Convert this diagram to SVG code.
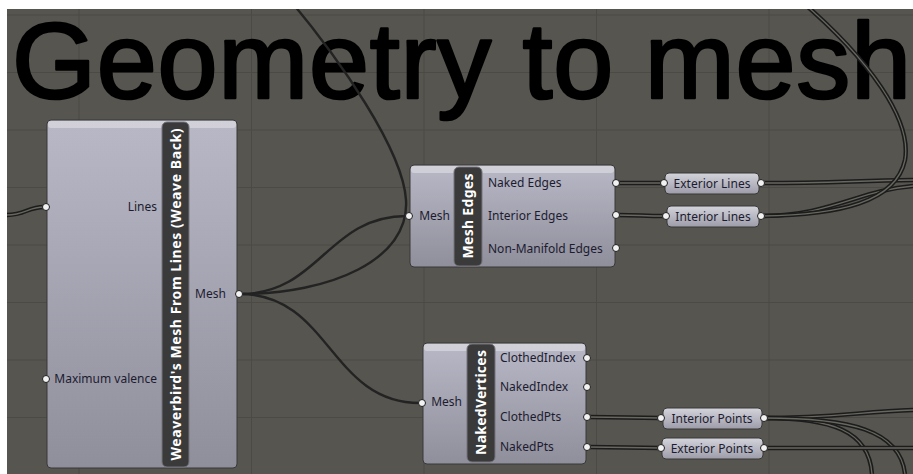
<svg xmlns="http://www.w3.org/2000/svg" width="913" height="474" viewBox="0 0 913 474">
<defs>
<style>
.grid{stroke:#4b4a45;stroke-width:1;fill:none}
.title{font-family:"Liberation Sans",Arial,sans-serif;font-size:108px;fill:#000;stroke:#000;stroke-width:2.6;stroke-linejoin:round}
.w1{fill:none;stroke:#232323;stroke-width:2.4}
.w2o{fill:none;stroke:#1c1c1c;stroke-width:4.4}
.w2i{fill:none;stroke:#67665f;stroke-width:1.3}
.comp{fill:url(#gc);stroke:#383838;stroke-width:1}
.param{fill:url(#gp);stroke:#383838;stroke-width:1}
.hl{fill:#ffffff;fill-opacity:0.35}
.bar{fill:#3a3a3a;stroke:#74747c;stroke-width:1}
.bt{font-family:"Noto Sans","DejaVu Sans",sans-serif;font-weight:bold;font-size:14px;fill:#ffffff;text-anchor:middle}
.lb{font-family:"Noto Sans","DejaVu Sans",sans-serif;font-size:12px;fill:#1c1c30}
.e{text-anchor:end}
.m{text-anchor:middle}
.grip{fill:#f2f2f2;stroke:#1e1e1e;stroke-width:1}
</style>
<linearGradient id="gc" x1="0" y1="0" x2="0" y2="1">
<stop offset="0" stop-color="#b9b8c6"/>
<stop offset="1" stop-color="#8f8e9b"/>
</linearGradient>
<linearGradient id="gp" x1="0" y1="0" x2="0" y2="1">
<stop offset="0" stop-color="#d4d4dc"/>
<stop offset="1" stop-color="#9d9ca9"/>
</linearGradient>
<path id="pLinesIn" d="M7,215 C25,215 28,207 44,207"/>
<path id="pNE" d="M617,183 C640,183 642,183 664,183"/>
<path id="pIE" d="M617,215 C640,215 642,216 666,216"/>
<path id="pCP" d="M589,417 C625,417 628,418 660,418"/>
<path id="pNP" d="M589,447 C625,447 628,448 660,448"/>
<path id="pEL" d="M761,183 C830,183 850,181 913,180"/>
<path id="pIL1" d="M761,216 C830,216 860,190 913,186"/>
<path id="pIL2" d="M761,216 C840,215 896,202 905,160 C912,120 870,60 800,0"/>
<path id="pIP1" d="M764,418 C830,418 860,412 913,410"/>
<path id="pIP2" d="M764,418 C830,418 869,430 872,474"/>
<path id="pIP3" d="M764,418 C850,418 900,430 905,474"/>
<path id="pEP" d="M764,448 C830,448 860,448 913,448"/>
</defs>
<rect x="0" y="0" width="913" height="474" fill="#ffffff"/>
<rect x="7" y="9" width="906" height="465" fill="#56554f"/>
<g id="grid">
<path class="grid" d="M7,15H913M7,72.5H913M7,130H913M7,187.5H913M7,245H913M7,302.5H913M7,360H913M7,417.5H913M79,9V474M251.5,9V474M424,9V474M596.5,9V474M769,9V474"/>
</g>
<text class="title" x="12" y="98" textLength="899">Geometry to mesh</text>
<g id="connectors">
<path class="w1" d="M240,294 C320,294 327,216 407,216"/>
<path class="w1" d="M240,294 C330,294 410,260 406,200 C403,150 340,60 290,0"/>
<path class="w1" d="M240,294 C330,294 330,403 420,403"/>
<use href="#pLinesIn" class="w2o"/><use href="#pLinesIn" class="w2i"/>
<use href="#pNE" class="w2o"/><use href="#pNE" class="w2i"/>
<use href="#pIE" class="w2o"/><use href="#pIE" class="w2i"/>
<use href="#pCP" class="w2o"/><use href="#pCP" class="w2i"/>
<use href="#pNP" class="w2o"/><use href="#pNP" class="w2i"/>
<use href="#pEL" class="w2o"/><use href="#pEL" class="w2i"/>
<use href="#pIL1" class="w2o"/><use href="#pIL1" class="w2i"/>
<use href="#pIL2" class="w2o"/><use href="#pIL2" class="w2i"/>
<use href="#pIP1" class="w2o"/><use href="#pIP1" class="w2i"/>
<use href="#pIP2" class="w2o"/><use href="#pIP2" class="w2i"/>
<use href="#pIP3" class="w2o"/><use href="#pIP3" class="w2i"/>
<use href="#pEP" class="w2o"/><use href="#pEP" class="w2i"/>
</g>
<rect x="0" y="0" width="913" height="9" fill="#ffffff"/>
<g id="weaverbird">
<rect class="comp" x="47" y="120" width="190" height="348" rx="4"/>
<rect class="hl" x="48" y="121" width="188" height="7" rx="3"/>
<rect class="bar" x="162" y="122" width="27" height="345" rx="5"/>
<text class="bt" transform="translate(180.5,294.5) rotate(-90)" textLength="332">Weaverbird's Mesh From Lines (Weave Back)</text>
<text class="lb e" x="157" y="211">Lines</text>
<text class="lb e" x="157" y="383">Maximum valence</text>
<text class="lb" x="195" y="298">Mesh</text>
<circle class="grip" cx="46" cy="207" r="3.5"/>
<circle class="grip" cx="46" cy="379" r="3.5"/>
<circle class="grip" cx="239" cy="294" r="3.5"/>
</g>
<g id="meshEdges">
<rect class="comp" x="410" y="165" width="205" height="102" rx="4"/>
<rect class="hl" x="411" y="166" width="203" height="7" rx="3"/>
<rect class="bar" x="454" y="167" width="28" height="99" rx="5"/>
<text class="bt" transform="translate(473,216) rotate(-90)" textLength="85">Mesh Edges</text>
<text class="lb e" x="450" y="220">Mesh</text>
<text class="lb" x="488" y="187">Naked Edges</text>
<text class="lb" x="488" y="220">Interior Edges</text>
<text class="lb" x="488" y="253">Non-Manifold Edges</text>
<circle class="grip" cx="409" cy="216" r="3.5"/>
<circle class="grip" cx="616" cy="183" r="3.5"/>
<circle class="grip" cx="616" cy="215" r="3.5"/>
<circle class="grip" cx="616" cy="248" r="3.5"/>
</g>
<g id="exteriorLines">
<rect class="param" x="665" y="173" width="94" height="21" rx="4"/>
<text class="lb m" x="712" y="188">Exterior Lines</text>
<circle class="grip" cx="664" cy="183" r="3.5"/>
<circle class="grip" cx="761" cy="183" r="3.5"/>
</g>
<g id="interiorLines">
<rect class="param" x="667" y="206" width="92" height="21" rx="4"/>
<text class="lb m" x="713" y="221">Interior Lines</text>
<circle class="grip" cx="666" cy="216" r="3.5"/>
<circle class="grip" cx="761" cy="216" r="3.5"/>
</g>
<g id="nakedVertices">
<rect class="comp" x="423" y="343" width="163" height="121" rx="4"/>
<rect class="hl" x="424" y="344" width="161" height="7" rx="3"/>
<rect class="bar" x="467" y="344" width="28" height="118" rx="5"/>
<text class="bt" transform="translate(486,402.5) rotate(-90)" textLength="105">NakedVertices</text>
<text class="lb e" x="462" y="406">Mesh</text>
<text class="lb" x="500" y="362">ClothedIndex</text>
<text class="lb" x="500" y="391">NakedIndex</text>
<text class="lb" x="500" y="421">ClothedPts</text>
<text class="lb" x="500" y="451">NakedPts</text>
<circle class="grip" cx="422" cy="403" r="3.5"/>
<circle class="grip" cx="587" cy="358" r="3.5"/>
<circle class="grip" cx="587" cy="387" r="3.5"/>
<circle class="grip" cx="587" cy="417" r="3.5"/>
<circle class="grip" cx="587" cy="447" r="3.5"/>
</g>
<g id="interiorPoints">
<rect class="param" x="663" y="408" width="99" height="21" rx="4"/>
<text class="lb m" x="712" y="423">Interior Points</text>
<circle class="grip" cx="661" cy="418" r="3.5"/>
<circle class="grip" cx="764" cy="418" r="3.5"/>
</g>
<g id="exteriorPoints">
<rect class="param" x="662" y="438" width="101" height="21" rx="4"/>
<text class="lb m" x="712" y="453">Exterior Points</text>
<circle class="grip" cx="661" cy="448" r="3.5"/>
<circle class="grip" cx="764" cy="448" r="3.5"/>
</g>
</svg>
